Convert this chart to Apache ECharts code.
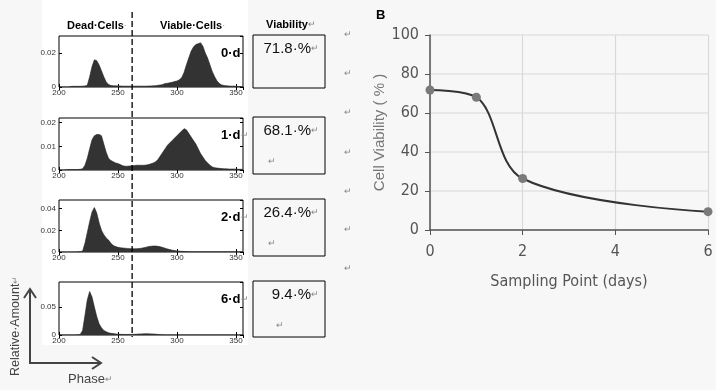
<!DOCTYPE html>
<html><head><meta charset="utf-8">
<script src="https://cdn.jsdelivr.net/npm/echarts@6/dist/echarts.min.js"></script>
<style>html,body{margin:0;padding:0;background:#f7f7f7}#c{width:716px;height:390px}</style>
</head><body><div id="c"></div>
<script>
// ---- Panel A: phase histograms ----
const phase = [200,202,204,206,208,210,212,214,216,218,220,222,224,226,228,230,232,234,236,238,240,242,244,246,248,250,252,254,256,258,260,262,264,266,268,270,272,274,276,278,280,282,284,286,288,290,292,294,296,298,300,302,304,306,308,310,312,314,316,318,320,322,324,326,328,330,332,334,336,338,340,342,344,346,348,350,352,354,356];
const hist0d = [0,0,0,0,0,0.0003,0.0004,0.0004,0.0004,0.0004,0.0005,0.0006,0.001,0.006,0.012,0.016,0.0155,0.013,0.0095,0.006,0.003,0.0015,0.0009,0.0007,0.0007,0.0006,0.0006,0.0005,0.0005,0.0005,0.0005,0.0005,0.0005,0.0005,0.0005,0.0005,0.0005,0.0005,0.0006,0.0006,0.0007,0.0008,0.001,0.0012,0.0015,0.002,0.0022,0.0025,0.0028,0.0032,0.0035,0.0042,0.0055,0.0085,0.013,0.017,0.021,0.0235,0.025,0.0255,0.026,0.024,0.02,0.017,0.013,0.009,0.006,0.0035,0.002,0.0012,0.0009,0.0007,0.0006,0.0005,0.0005,0.0004,0.0003,0.0003,0.0003];
const hist1d = [0,0,0,0.0001,0.0002,0.0002,0.0002,0.0002,0.0002,0.0003,0.0005,0.002,0.005,0.009,0.0128,0.0145,0.015,0.015,0.0145,0.011,0.0075,0.005,0.004,0.0035,0.003,0.0027,0.0023,0.0018,0.0016,0.0016,0.0017,0.0018,0.0019,0.002,0.002,0.002,0.002,0.0021,0.0023,0.0026,0.003,0.0035,0.0045,0.006,0.0075,0.009,0.0105,0.0115,0.0125,0.0135,0.0145,0.0155,0.0165,0.0175,0.017,0.0155,0.014,0.0125,0.011,0.009,0.007,0.0055,0.004,0.003,0.002,0.0013,0.001,0.0008,0.0007,0.0006,0.0005,0.0005,0.0004,0.0004,0.0004,0.0004,0.0003,0.0003,0.0003];
const hist2d = [0,0,0,0,0,0,0,0,0.0002,0.0003,0.0008,0.008,0.018,0.028,0.037,0.041,0.036,0.027,0.02,0.016,0.013,0.011,0.008,0.006,0.005,0.0043,0.004,0.0037,0.0035,0.0033,0.0031,0.003,0.003,0.003,0.0032,0.0035,0.004,0.0045,0.005,0.0053,0.0055,0.0055,0.0052,0.0048,0.0042,0.0035,0.0028,0.0022,0.0017,0.0013,0.001,0.0008,0.0006,0.0005,0.0004,0.0003,0.0002,0.0002,0.0002,0.0002,0.0002,0.0002,0.0002,0.0002,0.0002,0.0002,0.0002,0.0002,0.0002,0.0002,0.0002,0.0002,0.0002,0.0002,0.0002,0.0002,0.0002,0.0002,0.0002];
const hist6d = [0,0,0,0,0,0,0,0,0.0003,0.001,0.008,0.035,0.063,0.078,0.068,0.05,0.033,0.02,0.013,0.008,0.006,0.004,0.003,0.0025,0.002,0.0015,0.0012,0.001,0.001,0.001,0.001,0.001,0.0012,0.0015,0.0018,0.002,0.0022,0.0022,0.0022,0.002,0.0018,0.0015,0.001,0.0006,0.0004,0.0002,0.0002,0.0002,0.0002,0.0002,0.0002,0.0002,0.0002,0.0002,0.0002,0.0002,0.0002,0.0002,0.0002,0.0002,0.0002,0.0002,0.0002,0.0002,0.0002,0.0002,0.0002,0.0002,0.0002,0.0002,0.0002,0.0002,0.0002,0.0002,0.0002,0.0002,0.0002,0.0002,0.0002];
const histLabels = ['0·d','1·d','2·d','6·d'];
const histYMax = [0.03,0.022,0.048,0.095];
const histYInterval = [0.02,0.01,0.02,0.05];
const phaseTicks = [200,250,300,350];
const gatePhase = 262;
const viabilityText = ['71.8·%','68.1·%','26.4·%','9.4·%'];

// ---- Panel B: viability over time ----
const days = [0,1,2,6];
const viability = [71.8,68.1,26.4,9.4];
const dayTicks = [0,2,4,6];
const viabilityTicks = [0,20,40,60,80,100];

const hists = [hist0d,hist1d,hist2d,hist6d];
const gridTops = [36,118,200,282];
const gridHeights = [51,52,52,53];

const chart = echarts.init(document.getElementById('c'));
const F = 'Liberation Sans, Arial, sans-serif';
const N = 'Liberation Sans Narrow, Arial Narrow, DejaVu Sans Condensed, sans-serif';
const grids = [], xAxes = [], yAxes = [], series = [];
hists.forEach((h,i)=>{
  grids.push({left:59, width:184, top:gridTops[i], height:gridHeights[i], show:true, borderColor:'#000', borderWidth:1, backgroundColor:'#fff'});
  const xb = {type:'value', gridIndex:i, min:phaseTicks[0], max:356, interval:50, position:'bottom',
    axisLine:{show:false}, splitLine:{show:false},
    axisTick:{inside:true, length:3, lineStyle:{color:'#000'}},
    axisLabel:{fontSize:8, color:'#333', margin:2, fontFamily:F, showMaxLabel:false}};
  xAxes.push(xb);
  xAxes.push(Object.assign({}, xb, {position:'top', axisLabel:{show:false}}));
  const yl = {type:'value', gridIndex:i, min:0, max:histYMax[i], interval:histYInterval[i], position:'left',
    axisLine:{show:false}, splitLine:{show:false},
    axisTick:{inside:true, length:3, lineStyle:{color:'#000'}},
    axisLabel:{fontSize:8, color:'#333', margin:3, fontFamily:F, showMaxLabel:false,
      formatter:v=>v===0?'0':String(+v.toFixed(3))}};
  yAxes.push(yl);
  yAxes.push(Object.assign({}, yl, {position:'right', axisLabel:{show:false}}));
  series.push({type:'line', xAxisIndex:2*i, yAxisIndex:2*i, data:phase.map((p,k)=>[p,h[k]]),
    symbol:'none', lineStyle:{color:'#222', width:0.6}, areaStyle:{color:'#333', opacity:1}, silent:true});
});
grids.push({left:430, right:8, top:35, bottom:160});
xAxes.push({type:'value', gridIndex:4, min:dayTicks[0], max:dayTicks[dayTicks.length-1], interval:2,
  name:'Sampling Point (days)', nameLocation:'middle', nameGap:44,
  nameTextStyle:{fontFamily:N, fontSize:16, color:'#555'},
  axisLine:{lineStyle:{color:'#555', width:1.5}},
  axisTick:{show:true, length:5, lineStyle:{color:'#555'}},
  axisLabel:{fontFamily:N, fontSize:16, color:'#555', margin:14},
  splitLine:{show:true, lineStyle:{color:'#d9d9d9', width:1.2}}});
yAxes.push({type:'value', gridIndex:4, min:viabilityTicks[0], max:viabilityTicks[viabilityTicks.length-1], interval:20,
  name:'Cell Viability ( % )', nameLocation:'middle', nameGap:38,
  nameTextStyle:{fontFamily:F, fontSize:15, color:'#777'},
  axisLine:{show:true, lineStyle:{color:'#555', width:1.5}},
  axisTick:{show:true, length:5, lineStyle:{color:'#555'}},
  axisLabel:{fontFamily:N, fontSize:16, color:'#555', margin:11},
  splitLine:{show:true, lineStyle:{color:'#e2e2e2', width:1.5}}});
series.push({type:'line', xAxisIndex:8, yAxisIndex:8, data:days.map((d,k)=>[d,viability[k]]),
  smooth:0.35, symbol:'circle', symbolSize:9, itemStyle:{color:'#7a7a7a'},
  lineStyle:{color:'#333', width:2}, z:5});

chart.setOption({
  backgroundColor:'#f7f7f7',
  animation:false,
  grid:grids, xAxis:xAxes, yAxis:yAxes, series:series
});

const gateX = chart.convertToPixel({xAxisIndex:0}, gatePhase);
const ret = (x,y)=>({type:'text', left:x, top:y, style:{text:'↵', font:'9px '+F, fill:'#888'}});
const g = [];
g.push({type:'rect', shape:{x:42,y:0,width:206,height:345}, style:{fill:'#fff'}, z:-10});
hists.forEach((h,i)=>{
  const lx = chart.convertToPixel({xAxisIndex:2*i}, 356);
  g.push({type:'text', z:50, style:{text:'{b|'+histLabels[i]+'}'+(i>0?'{r|↵}':''), x:lx-22, y:gridTops[i]+11,
    rich:{b:{font:'bold 13px '+F, fill:'#000'}, r:{font:'9px '+F, fill:'#888'}}}});
  const bt = gridTops[i]-1, bh = [53,57,57,56][i];
  g.push({type:'rect', shape:{x:253,y:bt,width:72,height:bh}, style:{fill:'#f7f7f7', stroke:'#000', lineWidth:1}, z:20});
  g.push({type:'text', z:21, style:{text:'{v|'+viabilityText[i]+'}{r|↵}', x:319, y:bt+14, align:'right', verticalAlign:'middle',
    rich:{v:{font:'15px '+F, fill:'#111'}, r:{font:'9px '+F, fill:'#888'}}}});
  if(i>0) g.push({type:'text', z:21, style:{text:'↵', x:[0,268,268,276][i], y:bt+40, font:'9px '+F, fill:'#888'}});
});
g.push({type:'line', z:60, shape:{x1:gateX,y1:12,x2:gateX,y2:337}, style:{stroke:'#000', lineWidth:1.3, lineDash:[6,3]}});
g.push({type:'text', z:50, style:{text:'{b|Dead·Cells}{r|·}', x:67, y:20, rich:{b:{font:'bold 11px '+F, fill:'#000'}, r:{font:'9px '+F, fill:'#888'}}}});
g.push({type:'text', z:50, style:{text:'{b|Viable·Cells}{r|·}', x:160, y:20, rich:{b:{font:'bold 11px '+F, fill:'#000'}, r:{font:'9px '+F, fill:'#888'}}}});
g.push({type:'text', z:50, style:{text:'{b|Viability}{r|↵}', x:266, y:19, rich:{b:{font:'bold 11px '+F, fill:'#000'}, r:{font:'9px '+F, fill:'#888'}}}});
[30,69,108,148,187,225,264].forEach(y=>g.push(ret(344,y)));
g.push({type:'polyline', z:50, shape:{points:[[30,290],[30,363],[100,363]]}, style:{stroke:'#444', lineWidth:2, fill:null}});
g.push({type:'polyline', z:50, shape:{points:[[24,298],[30,289],[36,298]]}, style:{stroke:'#444', lineWidth:2, fill:null}});
g.push({type:'polyline', z:50, shape:{points:[[92,357],[101,363],[92,369]]}, style:{stroke:'#444', lineWidth:2, fill:null}});
g.push({type:'text', z:50, rotation:Math.PI/2, x:9, y:376, style:{text:'{b|Relative·Amount}{r|↵}', rich:{b:{font:'12.5px '+F, fill:'#444'}, r:{font:'9px '+F, fill:'#888'}}}});
g.push({type:'text', z:50, style:{text:'{b|Phase}{r|↵}', x:68, y:373, rich:{b:{font:'13px '+F, fill:'#444'}, r:{font:'9px '+F, fill:'#888'}}}});
g.push({type:'text', z:50, style:{text:'B', x:376, y:9, font:'bold 13px '+F, fill:'#000'}});
chart.setOption({graphic:g});
</script></body></html>
